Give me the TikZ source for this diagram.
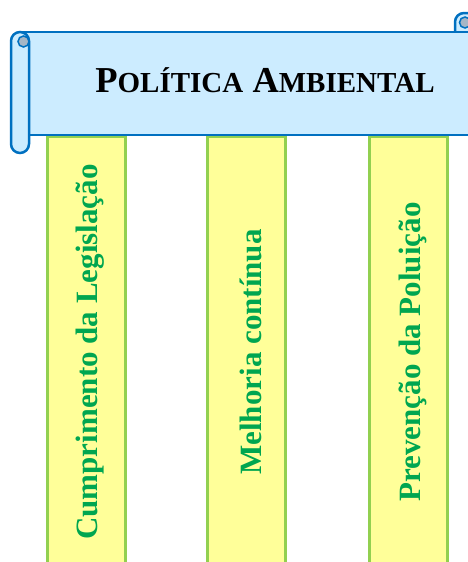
\documentclass[tikz,border=0pt]{standalone}
\usepackage{fontspec}
\setmainfont{Liberation Serif}
\usepackage{tikz}
\usetikzlibrary{positioning}
\definecolor{scrollfill}{HTML}{CCECFF}
\definecolor{scrollline}{HTML}{0070C0}
\definecolor{curlfill}{HTML}{A5B6C6}
\definecolor{pillarfill}{HTML}{FFFF99}
\definecolor{pillarline}{HTML}{92D050}
\definecolor{pillartext}{HTML}{00A650}
\newcommand{\smallcap}[1]{{\fontsize{29}{29}\selectfont #1}}

\begin{document}
\begin{tikzpicture}[x=1pt,y=-1pt,
    scroll/.style={draw=scrollline, fill=scrollfill, line width=2.5pt},
    curl/.style={draw=scrollline, fill=curlfill, line width=1.5pt},
    pillar/.style={draw=pillarline, fill=pillarfill, line width=2.5pt,
        minimum width=78pt, minimum height=430pt, inner sep=0pt},
    pillarlabel/.style={rotate=90, inner sep=0pt, yshift=-4pt,
        text=pillartext, font=\fontsize{31}{32}\selectfont\bfseries}]
    \useasboundingbox (0,0) rectangle (468,562);
    \clip (0,0) rectangle (468,562);

    % Pillars
    \node [pillar] (legis) at (86.5,352) {};
    \node [pillar] (melhoria) at (246.5,352) {};
    \node [pillar] (prevencao) at (408.5,352) {};
    \node [pillarlabel] (legis text) at (legis.center) {Cumprimento da Legislação};
    \node [pillarlabel] (melhoria text) at (melhoria.center) {Melhoria contínua};
    \node [pillarlabel] (prevencao text) at (prevencao.center) {Prevenção da Poluição};

    % Scroll
    \draw [scroll, rounded corners=9pt] (455,13) rectangle (480,60);
    \draw [curl] (465,22.5) circle (5.5);
    \draw [scroll] (20,32) rectangle (480,135);
    \draw [scroll, rounded corners=9pt] (11,32) rectangle (29,153);
    \draw [curl] (23.5,41.5) circle (5.5);
    \node [anchor=base, font=\fontsize{36.5}{37}\selectfont\bfseries] (title) at (265,92)
        {P\smallcap{OLÍTICA} A\smallcap{MBIENTAL}};

\end{tikzpicture}
\end{document}
